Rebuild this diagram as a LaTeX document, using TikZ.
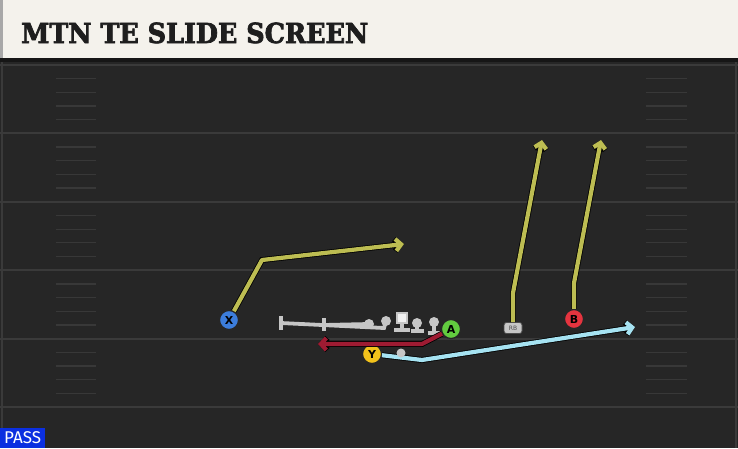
\documentclass[tikz,border=0pt]{standalone}
\usepackage{fontspec}
\setsansfont{DejaVu Sans}
\newfontfamily\titlefont{DejaVu Serif Condensed}[BoldFeatures={FakeBold=2.5}]
\newfontfamily\passfont{Fira Sans}
\usetikzlibrary{arrows.meta}

\begin{document}
\begin{tikzpicture}[x=1pt,y=-1pt]

\definecolor{fieldcolor}{HTML}{262626}
\definecolor{linecolor}{HTML}{3A3A3A}
\definecolor{barcolor}{HTML}{F4F2EC}
\definecolor{edgecolor}{HTML}{A8A8A8}
\definecolor{bandcolor}{HTML}{161616}
\definecolor{textcolor}{HTML}{1E1E1E}
\definecolor{olcolor}{HTML}{C6C6C6}
\definecolor{passblue}{HTML}{0B2FE0}

\definecolor{xplayer}{HTML}{3C7DDB}
\definecolor{aplayer}{HTML}{62CC3F}
\definecolor{yplayer}{HTML}{F2C21B}
\definecolor{bplayer}{HTML}{E5343F}

\definecolor{yroute}{HTML}{BDBD52}
\definecolor{broute}{HTML}{A6E3F2}
\definecolor{rroute}{HTML}{9E1B32}

\tikzstyle{yardline}=[line width=2pt, color=linecolor]
\tikzstyle{hash}=[line width=1.3pt, color=linecolor!90!fieldcolor]
\tikzstyle{player}=[circle, draw=black!85, line width=1.2pt, minimum size=19pt, inner sep=0pt, font=\sffamily\bfseries\fontsize{11}{11}\selectfont]
\tikzstyle{rbbox}=[rectangle, rounded corners=2.5pt, fill=olcolor, draw=black!70, line width=0.8pt, minimum width=18pt, minimum height=11pt, inner sep=0pt, text=black!70, font=\sffamily\fontsize{6}{6}\selectfont]
\tikzstyle{route}=[line width=4.2pt, line join=round, -{Straight Barb[length=5.5pt,width=12pt]}, preaction={draw=black, line width=5.8pt}]
\tikzstyle{block}=[line width=3.8pt, color=olcolor]

\useasboundingbox (0, 0) rectangle (738, 448);

% field
\fill[fieldcolor] (0, 58) rectangle (738, 448);
\draw[linecolor, line width=1.5pt] (2, 62) -- (2, 448);
\draw[linecolor, line width=1.5pt] (736, 62) -- (736, 448);

\foreach \i in {0,...,5} {
    \draw[yardline] (0, 65+68.4*\i) -- (738, 65+68.4*\i);
};
\foreach \i in {0,...,4} {
    \foreach \k in {1,...,4} {
        \draw[hash] (56, 65+68.4*\i+13.68*\k) -- (96, 65+68.4*\i+13.68*\k);
        \draw[hash] (646, 65+68.4*\i+13.68*\k) -- (687, 65+68.4*\i+13.68*\k);
    };
};

% title bar
\fill[barcolor] (0, 0) rectangle (738, 58);
\fill[edgecolor] (0, 0) rectangle (3, 58);
\fill[bandcolor] (0, 58) rectangle (738, 62);
\node[anchor=base west, inner sep=0pt, text=textcolor] (title) at (21, 43)
    {\resizebox{347pt}{20.5pt}{\titlefont\bfseries MTN TE SLIDE SCREEN}};

\def\blocker#1#2{
\begin{scope}[shift={#1}]
    \draw[block] (0, 0) -- (0, #2);
    \draw[block] (-6.5, #2) -- (6.5, #2);
    \fill[olcolor] (0, 0) circle (5);
\end{scope}
}

\def\snapper#1{
\begin{scope}[shift={#1}]
    \draw[block] (0, 4) -- (0, 12);
    \draw[block] (-8, 12) -- (8, 12);
    \filldraw[fill=white!94!black, draw=olcolor, line width=1.2pt] (-5, -5) rectangle (5, 5);
\end{scope}
}

% offensive line
\draw[block] (386, 321) -- (384, 328) -- (281, 323);
\draw[block] (281, 316) -- (281, 330);
\draw[block] (369, 324) -- (324, 325);
\draw[block] (324, 318) -- (324, 331);
\fill[olcolor] (369, 324) circle (5);
\fill[olcolor] (386, 321) circle (5);
\snapper{(402, 318)};
\blocker{(417, 323)}{8};
\blocker{(434, 322)}{11};

% players
\node[player, fill=xplayer] (X) at (229, 320) {X};
\node[player, fill=aplayer] (A) at (451, 329) {A};
\node[player, fill=yplayer] (Y) at (372, 354) {Y};
\node[player, fill=bplayer] (B) at (574, 319) {B};
\node[rbbox] (RB) at (513, 328) {RB};

\coordinate (xbreak) at (262, 260);
\coordinate (xend) at (404, 244);
\coordinate (rbbreak) at (513, 293);
\coordinate (rbend) at (542, 140);
\coordinate (bbreak) at (574, 283);
\coordinate (bend) at (601, 140);
\coordinate (ybreak) at (422, 360);
\coordinate (yend) at (635, 327);
\coordinate (abreak) at (422, 344);
\coordinate (aend) at (318, 344);

% routes
\draw[route, draw=yroute] (X) -- (xbreak) -- (xend);
\draw[route, draw=yroute] (RB) -- (rbbreak) -- (rbend);
\draw[route, draw=yroute] (B) -- (bbreak) -- (bend);
\draw[route, draw=broute] (Y) -- (ybreak) -- (yend);
\draw[route, draw=rroute] (A) -- (abreak) -- (aend);

\node[circle, fill=olcolor, inner sep=0pt, minimum size=9pt] (qb) at (401, 353) {};

\node[fill=passblue, anchor=south west, minimum width=45pt, minimum height=20pt, inner sep=0pt, text=white, font=\passfont\fontsize{17}{17}\selectfont] (pass) at (0, 448) {PASS};

\end{tikzpicture}
\end{document}
